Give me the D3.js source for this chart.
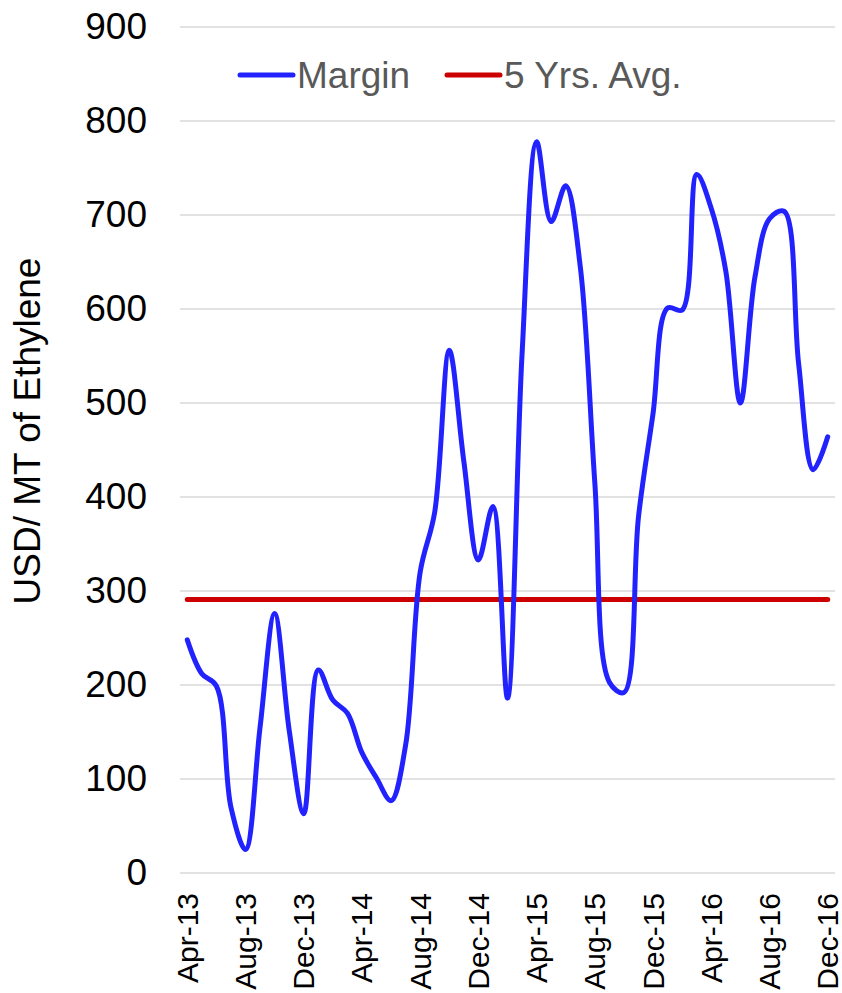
<!DOCTYPE html>
<html>
<head>
<meta charset="utf-8">
<script src="https://cdn.jsdelivr.net/npm/d3@7"></script>
<style>
  body { margin: 0; background: #fff; }
  text { font-family: "Liberation Sans", Arial, sans-serif; }
</style>
</head>
<body>
<div id="chart_area"></div>
<script>
// Data
var months = ["Apr-13","May-13","Jun-13","Jul-13","Aug-13","Sep-13","Oct-13","Nov-13","Dec-13",
              "Jan-14","Feb-14","Mar-14","Apr-14","May-14","Jun-14","Jul-14","Aug-14","Sep-14","Oct-14","Nov-14","Dec-14",
              "Jan-15","Feb-15","Mar-15","Apr-15","May-15","Jun-15","Jul-15","Aug-15","Sep-15","Oct-15","Nov-15","Dec-15",
              "Jan-16","Feb-16","Mar-16","Apr-16","May-16","Jun-16","Jul-16","Aug-16","Sep-16","Oct-16","Nov-16","Dec-16"];
var marginValues = [248, 212, 199, 70, 25, 155, 276, 152, 63,
                    216, 184, 170, 128, 101, 77, 136, 320, 384, 556, 438, 333,
                    390, 186, 552, 778, 693, 731, 645, 415, 203, 192, 379, 489,
                    601, 599, 743, 707, 640, 500, 634, 696, 704, 542, 429, 464];
var avgValue = 291;
var xTickLabels = ["Apr-13","Aug-13","Dec-13","Apr-14","Aug-14","Dec-14","Apr-15","Aug-15","Dec-15","Apr-16","Aug-16","Dec-16"];
var yTicks = [0, 100, 200, 300, 400, 500, 600, 700, 800, 900];
var seriesNames = ["Margin", "5 Yrs. Avg."];

var margin = {top: 27, right: 7, bottom: 120, left: 180},
    width = 842 - margin.left - margin.right,
    height = 993 - margin.top - margin.bottom;

// Set ranges
var x = d3.scaleBand()
          .domain(months)
          .range([0, width]);
var y = d3.scaleLinear()
          .domain([0, 900])
          .range([height, 0]);

function cx(m) { return x(m) + x.bandwidth() / 2; }

var root = d3.select("#chart_area").append("svg")
    .attr("width", 842)
    .attr("height", 993);

var svg = root.append("g")
    .attr("transform", "translate(" + margin.left + "," + margin.top + ")");

// Gridlines
svg.append("g")
  .selectAll("line")
  .data(yTicks)
  .enter().append("line")
    .attr("x1", 0)
    .attr("x2", width)
    .attr("y1", function(d) { return y(d); })
    .attr("y2", function(d) { return y(d); })
    .attr("stroke", "#d9d9d9")
    .attr("stroke-width", 1.5);

// Y axis
var yAxis = svg.append("g")
    .call(d3.axisLeft(y).tickValues(yTicks).tickSize(0).tickPadding(33));
yAxis.select(".domain").remove();
yAxis.selectAll("text")
    .attr("font-size", 37)
    .attr("fill", "#000")
    .style("font-family", "Liberation Sans, Arial, sans-serif");

// X axis
var xAxis = svg.append("g")
    .attr("transform", "translate(0," + height + ")")
    .call(d3.axisBottom(x).tickValues(xTickLabels).tickSize(0));
xAxis.select(".domain").remove();
xAxis.selectAll("text")
    .attr("font-size", 30)
    .attr("fill", "#000")
    .style("font-family", "Liberation Sans, Arial, sans-serif")
    .attr("text-anchor", "end")
    .attr("transform", "rotate(-90)")
    .attr("x", -20)
    .attr("y", 0)
    .attr("dy", "0.35em");

// Y axis title
root.append("text")
    .attr("transform", "translate(40,431) rotate(-90)")
    .attr("text-anchor", "middle")
    .attr("font-size", 37)
    .attr("fill", "#000")
    .text("USD/ MT of Ethylene");

// 5 year average line
svg.append("line")
    .attr("x1", cx(months[0]))
    .attr("x2", cx(months[months.length - 1]))
    .attr("y1", y(avgValue))
    .attr("y2", y(avgValue))
    .attr("stroke", "#cc0000")
    .attr("stroke-width", 5)
    .attr("stroke-linecap", "round");

// Margin line
var line = d3.line()
    .x(function(d, i) { return cx(months[i]); })
    .y(function(d) { return y(d); })
    .curve(d3.curveCatmullRom.alpha(0.5));

svg.append("path")
    .datum(marginValues)
    .attr("fill", "none")
    .attr("stroke", "#2222ff")
    .attr("stroke-width", 5)
    .attr("stroke-linecap", "round")
    .attr("stroke-linejoin", "round")
    .attr("d", line);

// Legend
var legend = root.append("g");
var legendItems = [
  {name: seriesNames[0], color: "#2222ff", x: 240},
  {name: seriesNames[1], color: "#cc0000", x: 447}
];
legendItems.forEach(function(d) {
  legend.append("line")
      .attr("x1", d.x)
      .attr("x2", d.x + 53)
      .attr("y1", 75)
      .attr("y2", 75)
      .attr("stroke", d.color)
      .attr("stroke-width", 5)
      .attr("stroke-linecap", "round");
  legend.append("text")
      .attr("x", d.x + 57)
      .attr("y", 75)
      .attr("dy", "0.35em")
      .attr("font-size", 37)
      .attr("fill", "#595959")
      .text(d.name);
});
</script>
</body>
</html>
